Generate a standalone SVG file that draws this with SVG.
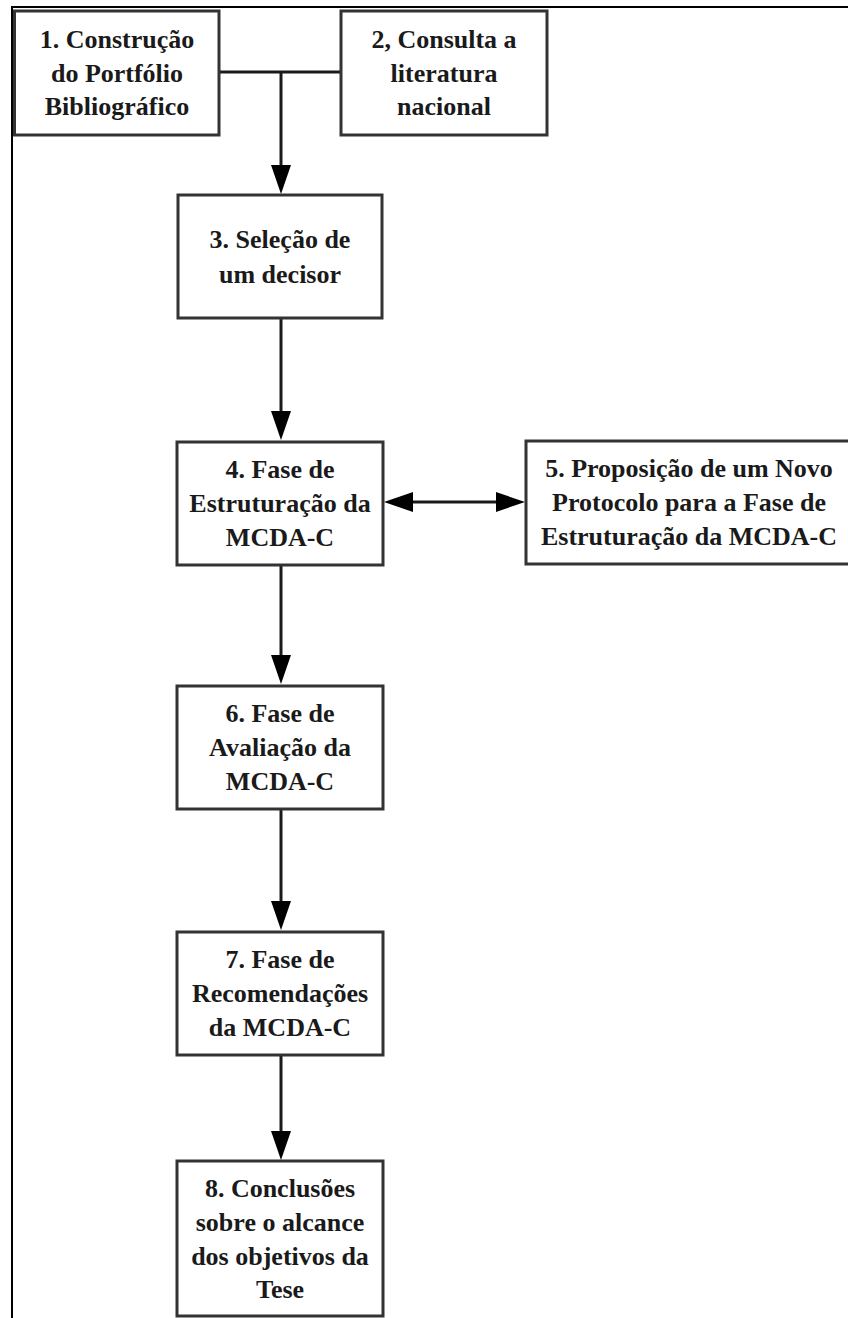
<svg xmlns="http://www.w3.org/2000/svg" width="848" height="1318" viewBox="0 0 848 1318">
  <defs>
    <style>
      .box { fill: #ffffff; stroke: #333333; stroke-width: 3; }
      .lbl { font-family: "Liberation Serif", "Times New Roman", serif; font-weight: bold; font-size: 26px; fill: #1a1a1a; text-anchor: middle; }
      .conn { fill: none; stroke: #1a1a1a; stroke-width: 3; }
      .frame { fill: none; stroke: #000000; stroke-width: 2; }
    </style>
    <marker id="arrow" markerUnits="userSpaceOnUse" markerWidth="29" markerHeight="21" refX="0" refY="10" orient="auto-start-reverse" viewBox="0 0 29 21">
      <path d="M0,0 L29,10 L0,20 Z" fill="#000000"/>
    </marker>
  </defs>

  <path class="frame" d="M12,1318 V7 H848"/>

  <g id="connectors">
    <path class="conn" d="M219,72 H341"/>
    <path class="conn" d="M281,72 V165" marker-end="url(#arrow)"/>
    <path class="conn" d="M281,318 V411" marker-end="url(#arrow)"/>
    <path class="conn" d="M413,502 H496" marker-start="url(#arrow)" marker-end="url(#arrow)"/>
    <path class="conn" d="M281,565 V655" marker-end="url(#arrow)"/>
    <path class="conn" d="M281,809 V901" marker-end="url(#arrow)"/>
    <path class="conn" d="M281,1055 V1131" marker-end="url(#arrow)"/>
  </g>

  <g id="node1">
    <rect class="box" x="14.5" y="11" width="204.5" height="124"/>
    <text class="lbl" x="117" y="48">1. Construção</text>
    <text class="lbl" x="117" y="82">do Portfólio</text>
    <text class="lbl" x="117" y="115">Bibliográfico</text>
  </g>

  <g id="node2">
    <rect class="box" x="341" y="11" width="206" height="124"/>
    <text class="lbl" x="444" y="48">2, Consulta a</text>
    <text class="lbl" x="444" y="82">literatura</text>
    <text class="lbl" x="444" y="115">nacional</text>
  </g>

  <g id="node3">
    <rect class="box" x="178" y="195" width="204" height="123"/>
    <text class="lbl" x="280" y="248">3. Seleção de</text>
    <text class="lbl" x="280" y="283">um decisor</text>
  </g>

  <g id="node4">
    <rect class="box" x="177" y="442" width="206" height="123"/>
    <text class="lbl" x="280" y="478">4. Fase de</text>
    <text class="lbl" x="280" y="512">Estruturação da</text>
    <text class="lbl" x="280" y="546">MCDA-C</text>
  </g>

  <g id="node5">
    <rect class="box" x="526" y="441" width="328" height="123"/>
    <text class="lbl" x="689" y="477">5. Proposição de um Novo</text>
    <text class="lbl" x="689" y="511">Protocolo para a Fase de</text>
    <text class="lbl" x="689" y="545">Estruturação da MCDA-C</text>
  </g>

  <g id="node6">
    <rect class="box" x="177" y="686" width="206" height="123"/>
    <text class="lbl" x="280" y="722">6. Fase de</text>
    <text class="lbl" x="280" y="756">Avaliação da</text>
    <text class="lbl" x="280" y="790">MCDA-C</text>
  </g>

  <g id="node7">
    <rect class="box" x="177" y="932" width="206" height="123"/>
    <text class="lbl" x="280" y="968">7. Fase de</text>
    <text class="lbl" x="280" y="1002">Recomendações</text>
    <text class="lbl" x="280" y="1036">da MCDA-C</text>
  </g>

  <g id="node8">
    <rect class="box" x="177" y="1161" width="206" height="155"/>
    <text class="lbl" x="280" y="1197">8. Conclusões</text>
    <text class="lbl" x="280" y="1231">sobre o alcance</text>
    <text class="lbl" x="280" y="1265">dos objetivos da</text>
    <text class="lbl" x="280" y="1298">Tese</text>
  </g>
</svg>
